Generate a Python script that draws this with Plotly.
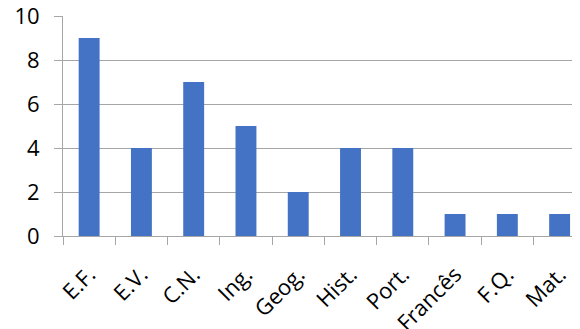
import plotly.graph_objects as go

categories = ["E.F.", "E.V.", "C.N.", "Ing.", "Geog.", "Hist.", "Port.", "Francês", "F.Q.", "Mat."]
values = [9, 4, 7, 5, 2, 4, 4, 1, 1, 1]
y_ticks = [0, 2, 4, 6, 8, 10]

fig = go.Figure(go.Bar(x=categories, y=values, marker=dict(color="#4472C4", line=dict(width=0))))

font = dict(family="Open Sans, Liberation Sans, sans-serif", size=22, color="#000000")
fig.update_layout(
    width=572, height=321,
    margin=dict(l=55, r=0, t=8, b=93, autoexpand=False),
    paper_bgcolor="white", plot_bgcolor="white",
    bargap=0.6, showlegend=False, font=font,
)
fig.update_xaxes(
    type="category", range=[-0.5, 9.39], automargin=False,
    tickson="boundaries", ticks="outside", ticklen=8, tickcolor="#a6a6a6", tickwidth=1,
    showline=True, linecolor="#a6a6a6", linewidth=1, ticklabeloverflow="allow",
    tickangle=-45, showgrid=False, tickfont=font, ticklabelstandoff=16,
)
fig.update_yaxes(
    range=[0, 10], tickvals=y_ticks, ticks="outside", ticklen=8, tickcolor="#a6a6a6",
    showline=True, linecolor="#a6a6a6", linewidth=1, automargin=False,
    showgrid=True, gridcolor="#a6a6a6", gridwidth=1, zeroline=False,
    tickfont=font, ticklabelstandoff=10, ticklabeloverflow="allow",
)
fig.write_html("out.html")
